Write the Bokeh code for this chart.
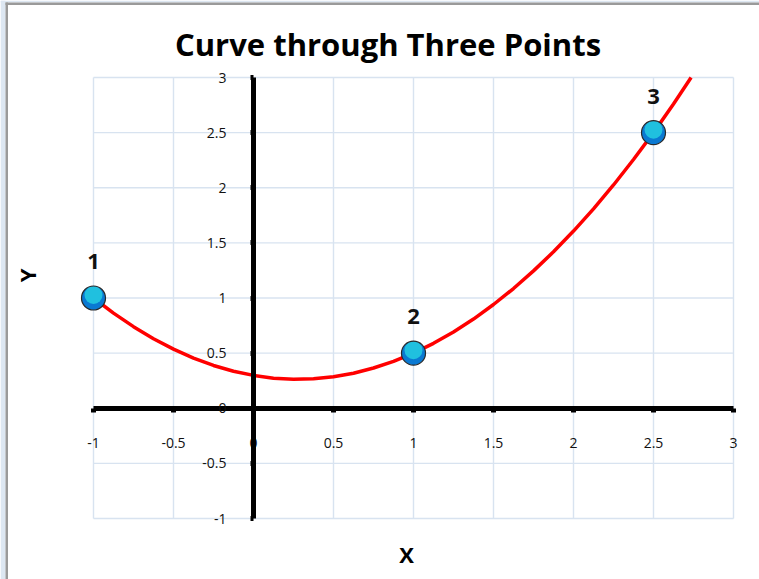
from bokeh.plotting import figure
from bokeh.models import Range1d, FixedTicker, Label, LabelSet, ColumnDataSource, BoxAnnotation
from bokeh.core.properties import value
from bokeh.embed import file_html
from bokeh.resources import INLINE

# ---- data ----
point_x = [-1, 1, 2.5]
point_y = [1, 0.5, 2.5]
point_names = ["1", "2", "3"]

curve_x = [-1, -0.875, -0.75, -0.625, -0.5, -0.375, -0.25, -0.125, 0, 0.125, 0.25, 0.375,
           0.5, 0.625, 0.75, 0.875, 1, 1.125, 1.25, 1.375, 1.5, 1.625, 1.75, 1.875, 2,
           2.125, 2.25, 2.375, 2.5, 2.625, 2.735]
curve_y = [1.0, 0.863, 0.740, 0.631, 0.536, 0.455, 0.388, 0.336, 0.298, 0.273, 0.263, 0.268,
           0.286, 0.318, 0.365, 0.425, 0.5, 0.589, 0.692, 0.809, 0.941, 1.086, 1.246, 1.419, 1.607,
           1.809, 2.025, 2.256, 2.5, 2.759, 3.0]

x_ticks = [-1, -0.5, 0, 0.5, 1, 1.5, 2, 2.5, 3]
x_tick_labels = ["-1", "-0.5", "0", "0.5", "1", "1.5", "2", "2.5", "3"]
y_ticks = [-1, -0.5, 0, 0.5, 1, 1.5, 2, 2.5, 3]
y_tick_labels = ["-1", "-0.5", "0", "0.5", "1", "1.5", "2", "2.5", "3"]

title_text = "Curve through Three Points"
x_title = "X"
y_title = "Y"

# ---- layout (pixels) ----
W, H = 759, 579
PX_X = 160.0      # pixels per x unit
PX_Y = 110.25     # pixels per y unit
X0 = -1 - 93 / PX_X          # data x at left canvas edge
Y1 = 3 + 77 / PX_Y           # data y at top canvas edge


def px2x(px):
    return X0 + px / PX_X


def px2y(py):
    return Y1 - py / PX_Y


FONT = "Open Sans"
GRID = "#d8e3f0"

p = figure(width=W, height=H, min_border=0, min_border_left=0, min_border_right=0,
           min_border_top=0, min_border_bottom=0,
           x_range=Range1d(X0, X0 + W / PX_X), y_range=Range1d(Y1 - H / PX_Y, Y1),
           output_backend="svg", toolbar_location=None,
           background_fill_color="white", border_fill_color="white")
p.outline_line_color = None
p.grid.visible = False

# window frame decoration
p.add_layout(BoxAnnotation(left=px2x(0), right=px2x(5), bottom=px2y(H), top=px2y(0),
                           fill_color="#dde7f2", fill_alpha=1, line_color=None))
p.add_layout(BoxAnnotation(left=px2x(0), right=px2x(W), bottom=px2y(2), top=px2y(0),
                           fill_color="#dde7f2", fill_alpha=1, line_color=None))
p.add_layout(BoxAnnotation(left=px2x(5), right=px2x(7.5), bottom=px2y(H), top=px2y(2),
                           fill_color="#9a9a9a", fill_alpha=1, line_color=None))
p.add_layout(BoxAnnotation(left=px2x(5), right=px2x(W), bottom=px2y(4.5), top=px2y(2),
                           fill_color="#9a9a9a", fill_alpha=1, line_color=None))

# grid lines (bounded to -1..3)
p.segment(x0=x_ticks, y0=[y_ticks[0]] * len(x_ticks), x1=x_ticks, y1=[y_ticks[-1]] * len(x_ticks),
          line_color=GRID, line_width=1.4)
p.segment(x0=[x_ticks[0]] * len(y_ticks), y0=y_ticks, x1=[x_ticks[-1]] * len(y_ticks), y1=y_ticks,
          line_color=GRID, line_width=1.4)

# axes crossing at origin
for ax, ticks, labels in ((p.xaxis[0], x_ticks, x_tick_labels), (p.yaxis[0], y_ticks, y_tick_labels)):
    ax.fixed_location = 0
    ax.bounds = (ticks[0], ticks[-1])
    ax.ticker = FixedTicker(ticks=ticks)
    ax.major_label_overrides = {float(t): s for t, s in zip(ticks, labels)}
    ax.axis_line_color = "black"
    ax.axis_line_width = 5
    ax.major_tick_line_color = "black"
    ax.major_tick_line_width = 5
    ax.major_tick_in = 0
    ax.minor_tick_line_color = None
    ax.major_label_text_font = FONT
    ax.major_label_text_font_size = "14px"
    ax.major_label_text_color = "#111111"

p.xaxis.major_tick_out = 4
p.xaxis.major_label_standoff = 26
p.yaxis.major_tick_out = 3
p.yaxis.major_label_standoff = 24

# curve
p.line(curve_x, curve_y, line_color="#ff0000", line_width=3.5)

# points (layered to suggest the cyan-to-blue shading)
src = ColumnDataSource(dict(x=point_x, y=point_y, name=point_names,
                            y_hi=[v + 3 / PX_Y for v in point_y]))
p.scatter("x", "y", source=src, size=24, fill_color="#0a79d2", line_color=None)
p.scatter("x", "y_hi", source=src, size=18, fill_color="#22c8e0", fill_alpha=0.9, line_color=None)
p.scatter("x", "y", source=src, size=24, fill_color=None, line_color="#2a2a2a", line_width=1.2)
p.add_layout(LabelSet(x="x", y="y", text="name", source=src, y_offset=29,
                      text_align="center", text_baseline="alphabetic",
                      text_font=value(FONT), text_font_style="bold", text_font_size="22px",
                      text_color="#111111"))

# titles
p.add_layout(Label(x=px2x(387.5), y=px2y(43), text=title_text, text_align="center",
                   text_baseline="alphabetic", text_font=FONT, text_font_style="bold",
                   text_font_size="31px", text_color="black"))
p.add_layout(Label(x=px2x(406), y=px2y(553), text=x_title, text_align="center",
                   text_baseline="alphabetic", text_font=FONT, text_font_style="bold",
                   text_font_size="22px", text_color="black"))
p.add_layout(Label(x=px2x(26), y=px2y(275), text=y_title, text_align="center",
                   text_baseline="alphabetic", angle=1.5708, text_font=FONT,
                   text_font_style="bold", text_font_size="22px", text_color="black"))

open("out.html", "w").write(file_html(p, INLINE))
